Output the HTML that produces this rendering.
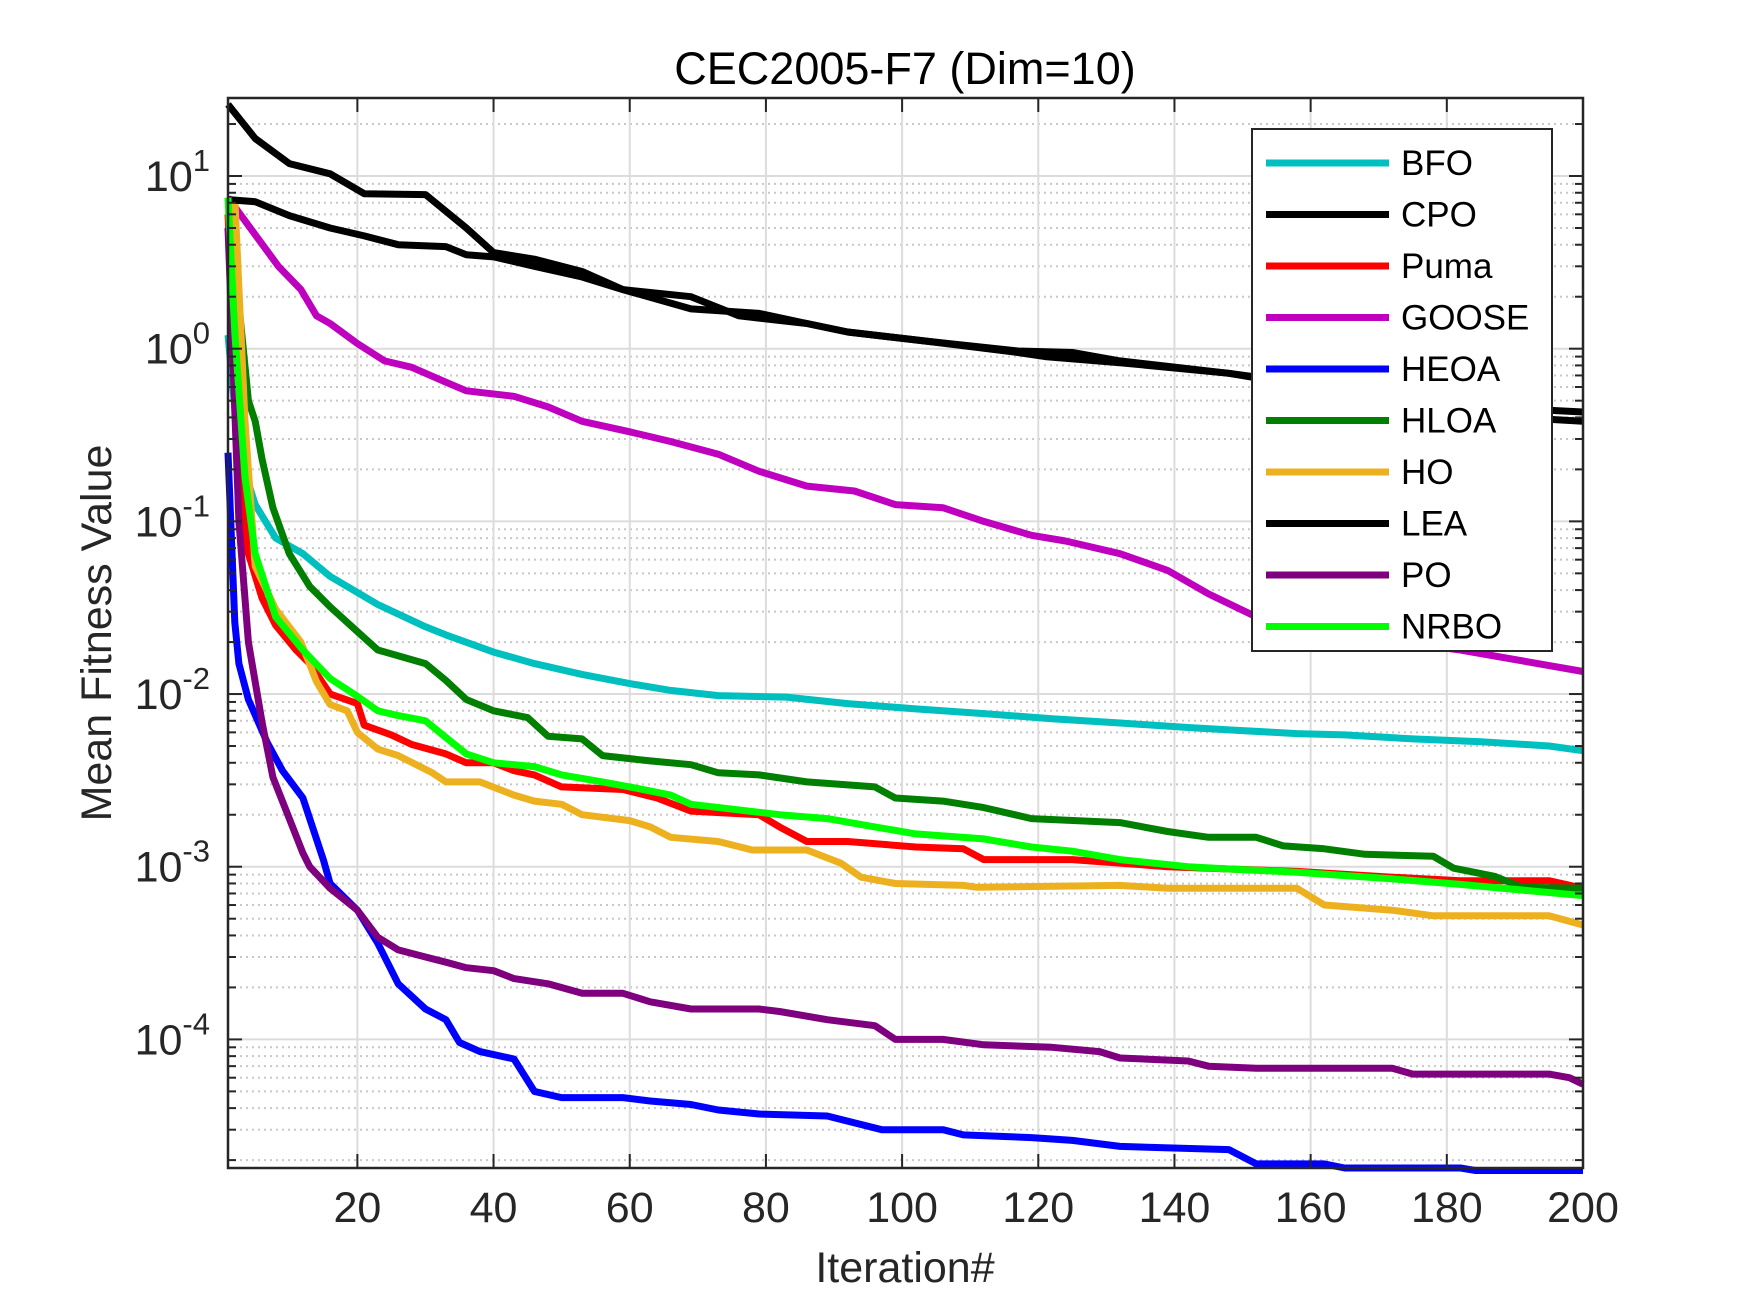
<!DOCTYPE html>
<html><head><meta charset="utf-8">
<style>
html,body{margin:0;padding:0;background:#fff;}
svg{display:block;font-family:"Liberation Sans",Arial,sans-serif;}
</style></head>
<body>
<svg id="chart" width="1750" height="1313" viewBox="0 0 1750 1313" xmlns="http://www.w3.org/2000/svg">
<rect width="1750" height="1313" fill="#fff"/>
<text x="905" y="84" font-size="45" text-anchor="middle" fill="#000">CEC2005-F7 (Dim=10)</text>
<text x="905" y="1282" font-size="43" text-anchor="middle" fill="#262626">Iteration#</text>
<text transform="translate(111,633) rotate(-90)" font-size="43" text-anchor="middle" fill="#262626">Mean Fitness Value</text>
<g id="grid"></g><g id="series"></g><g id="axes"></g><g id="legend"></g>
</svg>
<script>
const seriesNames = ["BFO","CPO","Puma","GOOSE","HEOA","HLOA","HO","LEA","PO","NRBO"];
const seriesColors = ["#00BFBF","#000000","#FF0000","#BF00BF","#0000FF","#007F00","#EDB120","#000000","#7E007E","#00FF00"];
const xTicks = [20,40,60,80,100,120,140,160,180,200];
const yDecades = [-4,-3,-2,-1,0,1];
const bfoX = [1,2.6,5,8,12,16,23,30,33,40,46,53,60,66,73,83,92,102,112,122,132,142,148,158,165,175,185,195,200];
const bfoY = [1.2,0.25,0.125,0.08,0.065,0.048,0.033,0.0245,0.022,0.0175,0.015,0.013,0.0115,0.0105,0.0098,0.0096,0.0088,0.0082,0.0077,0.0072,0.0068,0.0064,0.0062,0.0059,0.0058,0.0055,0.0053,0.005,0.0047];
const cpoX = [1,5,10,16,21,30,36,40,46,53,59,69,76,86,92,104,117,125,132,148,160,175,190,200];
const cpoY = [26,16.5,11.8,10.3,7.9,7.8,5.0,3.6,3.3,2.8,2.2,2.0,1.55,1.4,1.25,1.1,0.97,0.95,0.85,0.72,0.62,0.52,0.45,0.43];
const pumaX = [1,2.6,4,6,8,11,13,16,20,21,25,28,33,36,40,43,46,50,59,64,69,79,82,86,92,102,109,112,125,132,139,148,158,172,182,195,200];
const pumaY = [6,0.21,0.065,0.036,0.025,0.018,0.015,0.01,0.0088,0.0066,0.0058,0.0051,0.0045,0.004,0.004,0.0036,0.0034,0.0029,0.0028,0.0025,0.0021,0.002,0.0017,0.0014,0.0014,0.0013,0.00127,0.0011,0.0011,0.00105,0.001,0.00097,0.00094,0.00087,0.00083,0.00083,0.00075];
const gooseX = [1,3.5,8.4,11.7,14,16,20,24,28,33,36,43,48,53,60,66,73,79,86,93,99,106,112,119,124,132,139,145,152,165,182,200];
const gooseY = [7.5,5.5,3.0,2.2,1.55,1.4,1.07,0.85,0.78,0.64,0.57,0.53,0.46,0.38,0.33,0.29,0.245,0.195,0.16,0.15,0.125,0.12,0.10,0.083,0.077,0.065,0.052,0.038,0.028,0.022,0.018,0.0135];
const heoaX = [1,2,2.6,4,6.8,9,12,15,16,20,23,26,30,33,35,38,43,46,50,59,63,69,73,79,89,97,106,109,119,125,132,148,152,162,165,182,185,200];
const heoaY = [0.25,0.026,0.015,0.0093,0.0052,0.0036,0.0025,0.0011,0.0008,0.00056,0.00036,0.00021,0.00015,0.00013,0.000096,0.000085,0.000077,0.00005,0.000046,0.000046,0.000044,0.000042,0.000039,0.000037,0.000036,0.00003,0.00003,0.000028,0.000027,0.000026,0.000024,0.000023,0.000019,0.000019,0.000018,0.000018,0.0000172,0.0000172];
const hloaX = [1,2.6,4,5,6,7.6,10,13,16,20,23,30,33,36,40,45,48,53,56,63,69,73,79,86,96,99,106,112,119,132,139,145,152,156,162,168,178,181,187,191,200];
const hloaY = [5,1.8,0.5,0.38,0.23,0.12,0.065,0.042,0.032,0.023,0.018,0.015,0.012,0.0093,0.008,0.0073,0.0057,0.0055,0.0044,0.0041,0.0039,0.0035,0.0034,0.0031,0.0029,0.0025,0.0024,0.0022,0.0019,0.0018,0.0016,0.00148,0.00148,0.00132,0.00127,0.00118,0.00115,0.00098,0.00088,0.00076,0.00075];
const hoX = [2,3.5,5,8,11.7,14,16,18.5,20,23,26,31,33,38,43,46,50,53,60,63,66,73,78,86,91,94,99,109,111,132,139,158,162,172,178,195,200];
const hoY = [7.5,0.38,0.055,0.031,0.02,0.0118,0.0087,0.008,0.006,0.0048,0.0044,0.0035,0.0031,0.0031,0.0026,0.0024,0.0023,0.002,0.00185,0.0017,0.00148,0.0014,0.00125,0.00125,0.00105,0.00087,0.0008,0.00078,0.00076,0.00078,0.00075,0.00075,0.0006,0.00056,0.00052,0.00052,0.00046];
const leaX = [1,5,10,16,21,26,33,36,40,46,53,59,69,79,86,92,104,117,121,132,148,160,175,190,200];
const leaY = [7.3,7.1,5.9,5.0,4.5,4.0,3.9,3.5,3.4,3.0,2.6,2.2,1.7,1.6,1.4,1.25,1.1,0.95,0.9,0.83,0.72,0.6,0.5,0.4,0.38];
const poX = [1,2.6,4,6,7.6,10,12,13,16,20,23,26,30,33,36,40,43,48,53,59,63,69,79,82,89,96,99,106,112,122,129,132,142,145,152,172,175,195,198,200];
const poY = [5,0.1,0.02,0.0069,0.0033,0.0019,0.0012,0.001,0.00075,0.00056,0.00039,0.00033,0.0003,0.00028,0.00026,0.00025,0.000225,0.00021,0.000185,0.000185,0.000165,0.00015,0.00015,0.000145,0.00013,0.00012,0.0001,0.0001,0.000093,0.00009,0.000085,0.000078,0.000075,0.00007,0.000068,0.000068,0.000063,0.000063,0.00006,0.000055];
const nrboX = [1,2,3.5,5,8,12,16,20,23,26,30,33,36,40,46,50,56,60,66,69,82,89,96,102,112,119,125,132,142,148,158,172,182,200];
const nrboY = [7.5,1.24,0.18,0.065,0.028,0.018,0.0123,0.0097,0.008,0.0075,0.007,0.0056,0.0045,0.004,0.0038,0.0034,0.0031,0.0029,0.0026,0.0023,0.002,0.0019,0.0017,0.00155,0.00145,0.0013,0.00123,0.0011,0.001,0.00097,0.00093,0.00085,0.00079,0.00068];
const seriesX = [bfoX,cpoX,pumaX,gooseX,heoaX,hloaX,hoX,leaX,poX,nrboX];
const seriesY = [bfoY,cpoY,pumaY,gooseY,heoaY,hloaY,hoY,leaY,poY,nrboY];

const NS="http://www.w3.org/2000/svg";
const L=228,R=1583,T=98,B=1168;
const xMin=1,xMax=200;
const yMinLog=Math.log10(1.8e-5), yMaxLog=Math.log10(28.3);
function sx(v){return L+(v-xMin)/(xMax-xMin)*(R-L);}
function sy(v){return B-(Math.log10(v)-yMinLog)/(yMaxLog-yMinLog)*(B-T);}
function mk(tag,attrs,parent){const e=document.createElementNS(NS,tag);for(const k in attrs)e.setAttribute(k,attrs[k]);parent.appendChild(e);return e;}
const grid=document.getElementById('grid'),axes=document.getElementById('axes'),ser=document.getElementById('series'),leg=document.getElementById('legend');
for(let d=-5;d<=1;d++){for(let m=2;m<=9;m++){const v=m*Math.pow(10,d);if(v<1.8e-5||v>28.3)continue;const y=sy(v);
 const g=mk('line',{x1:L,x2:R,y1:y,y2:y,stroke:'#c8c8c8','stroke-width':2,'stroke-dasharray':'2,4'},grid);
 
 
 mk('line',{x1:L,x2:L+8,y1:y,y2:y,stroke:'#262626','stroke-width':2},axes);
 mk('line',{x1:R,x2:R-8,y1:y,y2:y,stroke:'#262626','stroke-width':2},axes);}}
yDecades.forEach(d=>{const y=sy(Math.pow(10,d));
 const g=mk('line',{x1:L,x2:R,y1:y,y2:y,stroke:'#dcdcdc','stroke-width':2},grid);
 
 
 mk('line',{x1:L,x2:L+14,y1:y,y2:y,stroke:'#262626','stroke-width':2},axes);
 mk('line',{x1:R,x2:R-14,y1:y,y2:y,stroke:'#262626','stroke-width':2},axes);
 const t=mk('text',{x:L-18,y:y+15,'font-size':43,'text-anchor':'end',fill:'#262626'},axes);
 
 
 const base=document.createElementNS(NS,'tspan');base.textContent='10';t.appendChild(base);
 const sup=document.createElementNS(NS,'tspan');sup.setAttribute('dy','-20');sup.setAttribute('font-size','31');sup.textContent=String(d);t.appendChild(sup);
});
xTicks.forEach(v=>{const x=sx(v);
 const g=mk('line',{x1:x,x2:x,y1:T,y2:B,stroke:'#dcdcdc','stroke-width':2},grid);
 
 
 mk('line',{x1:x,x2:x,y1:B,y2:B-14,stroke:'#262626','stroke-width':2},axes);
 mk('line',{x1:x,x2:x,y1:T,y2:T+14,stroke:'#262626','stroke-width':2},axes);
 const t=mk('text',{x:x,y:1222,'font-size':43,'text-anchor':'middle',fill:'#262626'},axes);
 t.textContent=String(v);
 
 
});
const box=mk('rect',{x:L,y:T,width:R-L,height:B-T,fill:'none',stroke:'#262626','stroke-width':2.5},axes);


const clip=mk('clipPath',{id:'pc'},ser);mk('rect',{x:L-6,y:T-6,width:R-L+10,height:B-T+12},clip);
seriesNames.forEach((n,i)=>{
 const pts=seriesX[i].map((x,j)=>sx(x).toFixed(1)+','+sy(seriesY[i][j]).toFixed(1)).join(' ');
 const p=mk('polyline',{points:pts,fill:'none',stroke:seriesColors[i],'stroke-width':7,'stroke-linejoin':'round','clip-path':'url(#pc)'},ser);
 
 
});
const lb=mk('rect',{x:1252,y:129,width:300,height:522,fill:'#fff',stroke:'#262626','stroke-width':2},leg);


seriesNames.forEach((n,i)=>{const y=163+i*51.5;
 const g=mk('g',{},leg);
 
 
 mk('line',{x1:1266,x2:1389,y1:y,y2:y,stroke:seriesColors[i],'stroke-width':7},g);
 const t=mk('text',{x:1401,y:y+12,'font-size':35,fill:'#000'},g);t.textContent=n;
});
</script>
</body></html>
